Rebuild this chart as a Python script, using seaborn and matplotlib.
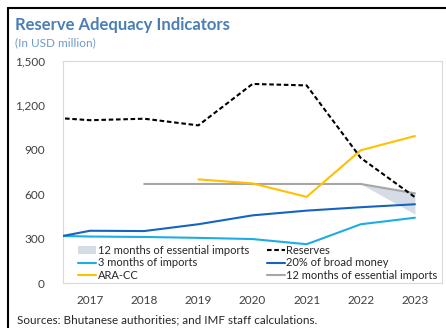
import matplotlib
matplotlib.use("Agg")
import matplotlib.pyplot as plt
from matplotlib.lines import Line2D
from matplotlib.patches import Patch
import seaborn as sns

sns.set_theme(style="white")
plt.rcParams["font.family"] = ["Lato", "DejaVu Sans"]

# Years (2016 included so the series run in from the left edge of the axis)
years_full = [2016, 2017, 2018, 2019, 2020, 2021, 2022, 2023]
reserves = [1125, 1100, 1110, 1065, 1345, 1335, 845, 580]
broad_money_20 = [283, 353, 351, 397, 457, 489, 512, 532]
imports_3m = [322, 314, 311, 305, 297, 262, 397, 441]

years_ess = [2018, 2019, 2020, 2021, 2022, 2023]
essential_12m = [669, 669, 669, 669, 669, 606]

years_ara = [2019, 2020, 2021, 2022, 2023]
ara_cc = [700, 673, 582, 897, 993]

# Range band for essential imports (upper and lower estimate)
years_band = [2022, 2023]
band_upper = [669, 606]
band_lower = [669, 465]

tick_years = [2017, 2018, 2019, 2020, 2021, 2022, 2023]
y_ticks = [0, 300, 600, 900, 1200, 1500]
y_ticklabels = ["0", "300", "600", "900", "1,200", "1,500"]

C_DARK = "#1565C0"
C_LIGHT = "#1CADE4"
C_YELLOW = "#FFC000"
C_GRAY = "#A6A6A6"
C_BAND = "#D6DCE5"
TICK_COL = "#404040"

fig = plt.figure(figsize=(4.46, 3.28), dpi=100)
ax = fig.add_axes([63 / 446, 45 / 328, 379 / 446, 222 / 328])

ax.fill_between(years_band, band_lower, band_upper, color=C_BAND, lw=0, zorder=1)

lw = 1.5
sns.lineplot(x=years_ess, y=essential_12m, ax=ax, color=C_GRAY, lw=lw, zorder=2)
sns.lineplot(x=years_full, y=imports_3m, ax=ax, color=C_LIGHT, lw=lw, zorder=3)
sns.lineplot(x=years_full, y=broad_money_20, ax=ax, color=C_DARK, lw=lw, zorder=3)
sns.lineplot(x=years_ara, y=ara_cc, ax=ax, color=C_YELLOW, lw=lw, zorder=4)
sns.lineplot(x=years_full, y=reserves, ax=ax, color="black", lw=lw, zorder=5)
ax.lines[-1].set_dashes((2.2, 1.3))

ax.set_xlim(2016.5, 2023.5)
ax.set_ylim(0, 1500)
ax.set_xticks(tick_years)
ax.set_xticklabels([str(y) for y in tick_years], fontsize=8.5, color=TICK_COL)
ax.set_yticks(y_ticks)
ax.set_yticklabels(y_ticklabels, fontsize=8.5, color=TICK_COL)
ax.tick_params(axis="both", length=0)
ax.tick_params(axis="x", pad=9)
ax.tick_params(axis="y", pad=13)
ax.set_xlabel("")
ax.set_ylabel("")
for s in ax.spines.values():
    s.set_color("#D9D9D9")
    s.set_linewidth(0.8)

handles = [
    Patch(facecolor=C_BAND, edgecolor="none"),
    Line2D([], [], color=C_LIGHT, lw=lw),
    Line2D([], [], color=C_YELLOW, lw=lw),
    Line2D([], [], color="black", lw=lw, dashes=(2.2, 1.3)),
    Line2D([], [], color=C_DARK, lw=lw),
    Line2D([], [], color=C_GRAY, lw=lw),
]
labels = [
    "12 months of essential imports",
    "3 months of imports",
    "ARA-CC",
    "Reserves",
    "20% of broad money",
    "12 months of essential imports",
]
leg = ax.legend(handles, labels, ncol=2, loc="lower left",
                bbox_to_anchor=(0.035, 0.0), frameon=False,
                fontsize=8, handlelength=1.6, handletextpad=0.15,
                columnspacing=1.6, labelspacing=0.12, borderpad=0.2,
                borderaxespad=0)
for t in leg.get_texts():
    t.set_color("#262626")

fig.text(15 / 446, 1 - 25 / 328, "Reserve Adequacy Indicators", fontsize=12,
         fontweight="bold", color="#4A7EB5", va="center", ha="left")
fig.text(15 / 446, 1 - 43 / 328, "(In USD million)", fontsize=8.5,
         color="#6C9BCB", va="center", ha="left")
fig.text(17 / 446, 1 - 320 / 328,
         "Sources: Bhutanese authorities; and IMF staff calculations.",
         fontsize=8.4, color="#262626", va="center", ha="left")

# Outer frame lines on the left and top
fig.add_artist(Line2D([8 / 446, 8 / 446], [0, 1 - 8 / 328],
                      transform=fig.transFigure, color="black", lw=1.5))
fig.add_artist(Line2D([8 / 446, 1], [1 - 8 / 328, 1 - 8 / 328],
                      transform=fig.transFigure, color="black", lw=1.5))

fig.savefig("out.png", dpi=100)
